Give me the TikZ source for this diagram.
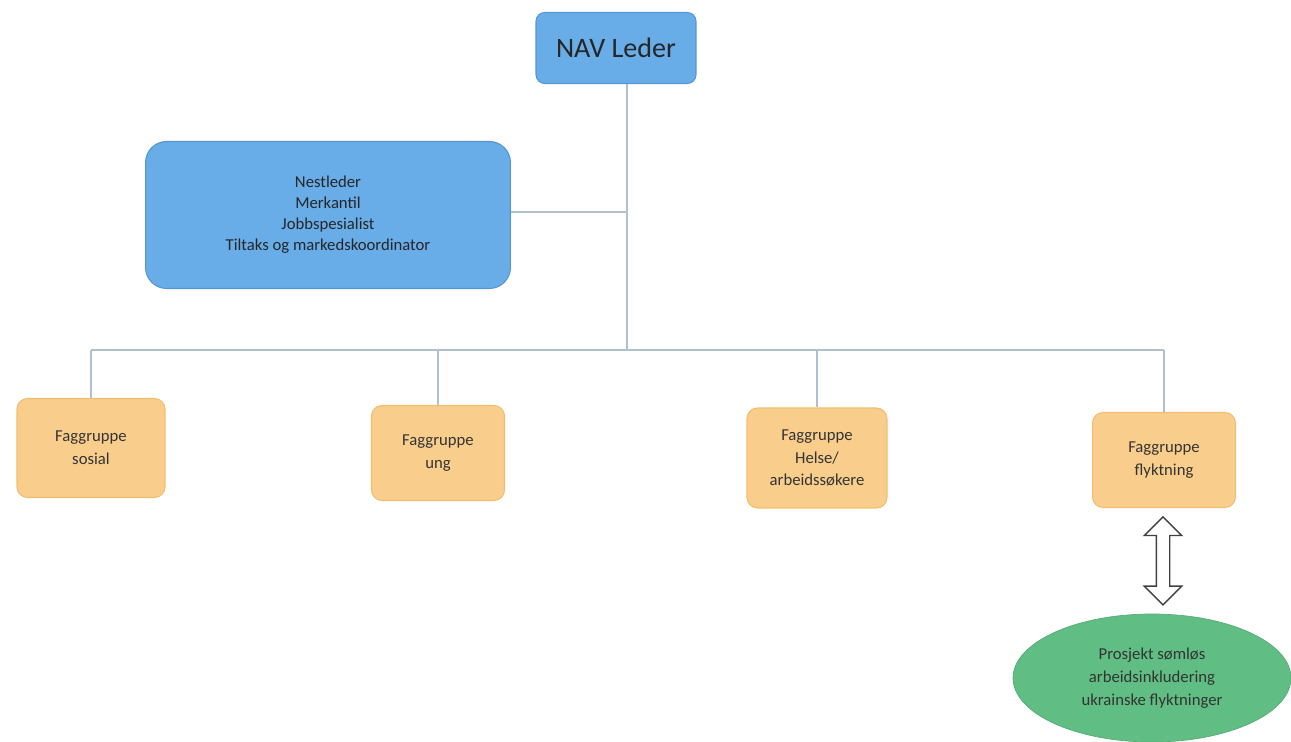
\documentclass[tikz,border=0pt]{standalone}
\usepackage{fontspec}
\setmainfont{Carlito}
\usetikzlibrary{positioning,shapes.geometric,shapes.arrows}
\definecolor{lederblue}{RGB}{104,172,232}
\definecolor{lederedge}{RGB}{84,150,212}
\definecolor{faggorange}{RGB}{249,206,140}
\definecolor{faggedge}{RGB}{240,190,110}
\definecolor{prosjgreen}{RGB}{96,190,132}
\definecolor{linjegray}{RGB}{176,192,206}

\begin{document}
\begin{tikzpicture}[x=0.02cm,y=0.02cm,
	leder/.style={rectangle,rounded corners=5pt,fill=lederblue,draw=lederedge,line width=0.6pt,align=center,text=black!85},
	fagg/.style={rectangle,rounded corners=6pt,fill=faggorange,draw=faggedge,line width=0.6pt,align=center,minimum width=2.7cm,minimum height=1.9cm,font=\fontsize{9.5}{13}\selectfont,text=black!80},
	linje/.style={draw=linjegray,line width=0.6pt},
	]
	\useasboundingbox (0,0) rectangle (1291,-742);

	\node[leder,minimum width=3.2cm,minimum height=1.42cm,font=\fontsize{16}{19}\selectfont] (leder) at (616,-48) {NAV Leder};
	\node[leder,rounded corners=12pt,minimum width=7.3cm,minimum height=2.94cm,font=\fontsize{9.5}{12}\selectfont] (stab) at (328,-215) {Nestleder\\Merkantil\\Jobbspesialist\\Tiltaks og markedskoordinator};

	\node[fagg,minimum width=2.96cm,minimum height=1.98cm] (sosial) at (91,-448) {Faggruppe\\sosial};
	\node[fagg,minimum width=2.66cm] (ung) at (438,-453) {Faggruppe\\ung};
	\node[fagg,minimum width=2.8cm,minimum height=2cm] (helse) at (817,-458) {Faggruppe\\Helse/\\arbeidssøkere};
	\node[fagg,minimum width=2.86cm] (flykt) at (1164,-460) {Faggruppe\\flyktning};

	\node[ellipse,fill=prosjgreen,draw=prosjgreen!90!black,line width=0.4pt,minimum width=5.56cm,minimum height=2.56cm,align=center,font=\fontsize{9.5}{13}\selectfont,text=black!80] (prosjekt) at (1152,-678) {Prosjekt sømløs\\arbeidsinkludering\\ukrainske flyktninger};

	% hovedlinje og grener
	\coordinate (midt) at (627,-212);
	\coordinate (buss) at (627,-350);
	\draw[linje] (leder.south -| midt) -- (buss);
	\draw[linje] (stab.east |- midt) -- (midt);
	\draw[linje] (sosial.north |- buss) -- (flykt.north |- buss);
	\foreach \g in {sosial,ung,helse,flykt}
		\draw[linje] (\g.north |- buss) -- (\g.north);

	% dobbeltpil
	\path (flykt.south) -- (prosjekt.north) coordinate[pos=0.5] (pilmidt);
	\node[double arrow,draw=black!75,fill=white,line width=0.8pt,rotate=90,inner xsep=0pt,inner ysep=0.12cm,minimum height=1.76cm,minimum width=0pt,double arrow head extend=0.24cm,font=\tiny] (pil) at (pilmidt -| 1163,0) {};
\end{tikzpicture}
\end{document}
